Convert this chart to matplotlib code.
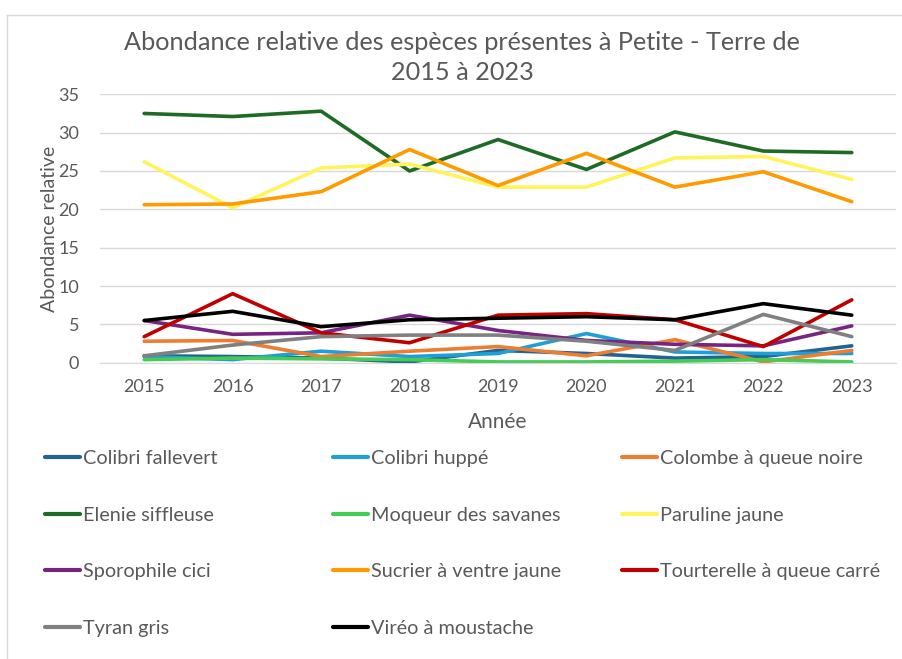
import numpy as np
import matplotlib
matplotlib.use("Agg")
import matplotlib.pyplot as plt
from matplotlib.lines import Line2D

plt.rcParams['font.family'] = ['Lato', 'DejaVu Sans']

years = ["2015", "2016", "2017", "2018", "2019", "2020", "2021", "2022", "2023"]

fallevert = [0.9, 0.8, 0.6, 0.1, 1.6, 1.2, 0.6, 0.8, 2.2]
huppe = [0.8, 0.4, 1.5, 0.8, 1.2, 3.8, 1.4, 1.2, 1.2]
colombe = [2.8, 2.9, 0.8, 1.5, 2.1, 0.9, 3.0, 0.1, 1.6]
elenie = [32.5, 32.1, 32.8, 25.0, 29.1, 25.2, 30.1, 27.6, 27.4]
moqueur = [0.4, 0.6, 0.5, 0.4, 0.1, 0.1, 0.2, 0.4, 0.1]
paruline = [26.2, 20.2, 25.4, 25.9, 22.9, 22.9, 26.7, 26.9, 23.9]
sporophile = [5.5, 3.7, 3.9, 6.2, 4.2, 2.9, 2.4, 2.2, 4.8]
sucrier = [20.6, 20.7, 22.3, 27.8, 23.1, 27.3, 22.9, 24.9, 21.0]
tourterelle = [3.4, 9.0, 3.9, 2.6, 6.2, 6.4, 5.6, 2.1, 8.2]
tyran = [0.9, 2.3, 3.4, 3.6, 3.6, 2.8, 1.6, 6.3, 3.4]
vireo = [5.5, 6.7, 4.7, 5.6, 5.8, 6.0, 5.6, 7.7, 6.2]

series = [
    ("Colibri fallevert", fallevert, "#22638F"),
    ("Colibri huppé", huppe, "#1E9FD8"),
    ("Colombe à queue noire", colombe, "#ED7D31"),
    ("Elenie siffleuse", elenie, "#1D6B24"),
    ("Moqueur des savanes", moqueur, "#44CC55"),
    ("Paruline jaune", paruline, "#FFF45C"),
    ("Sporophile cici", sporophile, "#772581"),
    ("Sucrier à ventre jaune", sucrier, "#FF9A00"),
    ("Tourterelle à queue carré", tourterelle, "#C00000"),
    ("Tyran gris", tyran, "#808080"),
    ("Viréo à moustache", vireo, "#000000"),
]

txt = "#595959"
fig = plt.figure(figsize=(9.03, 6.59), dpi=100)
ax = fig.add_axes([100/903, 1 - 362.7/659, 796/903, (362.7 - 94.3)/659])

x = np.arange(len(years))
handles = []
for name, vals, col in series:
    h, = ax.plot(x, vals, color=col, lw=2.6, label=name, solid_capstyle='round', solid_joinstyle='round')
    handles.append(h)

ax.set_xlim(-0.5, len(years) - 0.5)
ax.set_ylim(0, 35)
ax.set_yticks(range(0, 36, 5))
ax.set_xticks(x)
ax.set_xticklabels(years)
ax.grid(axis='y', color='#D9D9D9', lw=1)
ax.set_axisbelow(True)
for s in ax.spines.values():
    s.set_visible(False)
ax.spines['bottom'].set_visible(True)
ax.spines['bottom'].set_color('#D9D9D9')
ax.tick_params(length=0, labelsize=13, colors=txt)
ax.tick_params(axis='y', pad=15)
ax.tick_params(axis='x', pad=12)

ax.set_xlabel("Année", fontsize=15, color=txt, labelpad=12)
ax.set_ylabel("Abondance relative", fontsize=14, color=txt, labelpad=0)

fig.text(462/903, 1 - 42/659, "Abondance relative des espèces présentes à Petite - Terre de",
         ha='center', va='center', fontsize=18.2, color=txt)
fig.text(462/903, 1 - 73/659, "2015 à 2023", ha='center', va='center', fontsize=18.2, color=txt)

# légende : remplissage par ligne comme dans Excel, une légende par colonne
col_x = [45, 333, 622]
for c in range(3):
    idx = list(range(c, len(series), 3))
    leg = fig.legend([handles[i] for i in idx], [series[i][0] for i in idx],
                     loc='upper left', bbox_to_anchor=(col_x[c]/903, 1 - 450/659),
                     frameon=False, fontsize=14.3, labelcolor=txt,
                     handlelength=1.75, handletextpad=0.15, labelspacing=2.0,
                     borderaxespad=0, borderpad=0)
    for lh in leg.get_lines():
        lh.set_linewidth(3)

# cadre du graphique
fig.add_artist(Line2D([7/903, 7/903], [0, 1 - 15/659], color='#D9D9D9', lw=1))
fig.add_artist(Line2D([7/903, 1], [1 - 15/659, 1 - 15/659], color='#D9D9D9', lw=1))

fig.savefig("out.png", dpi=100)
